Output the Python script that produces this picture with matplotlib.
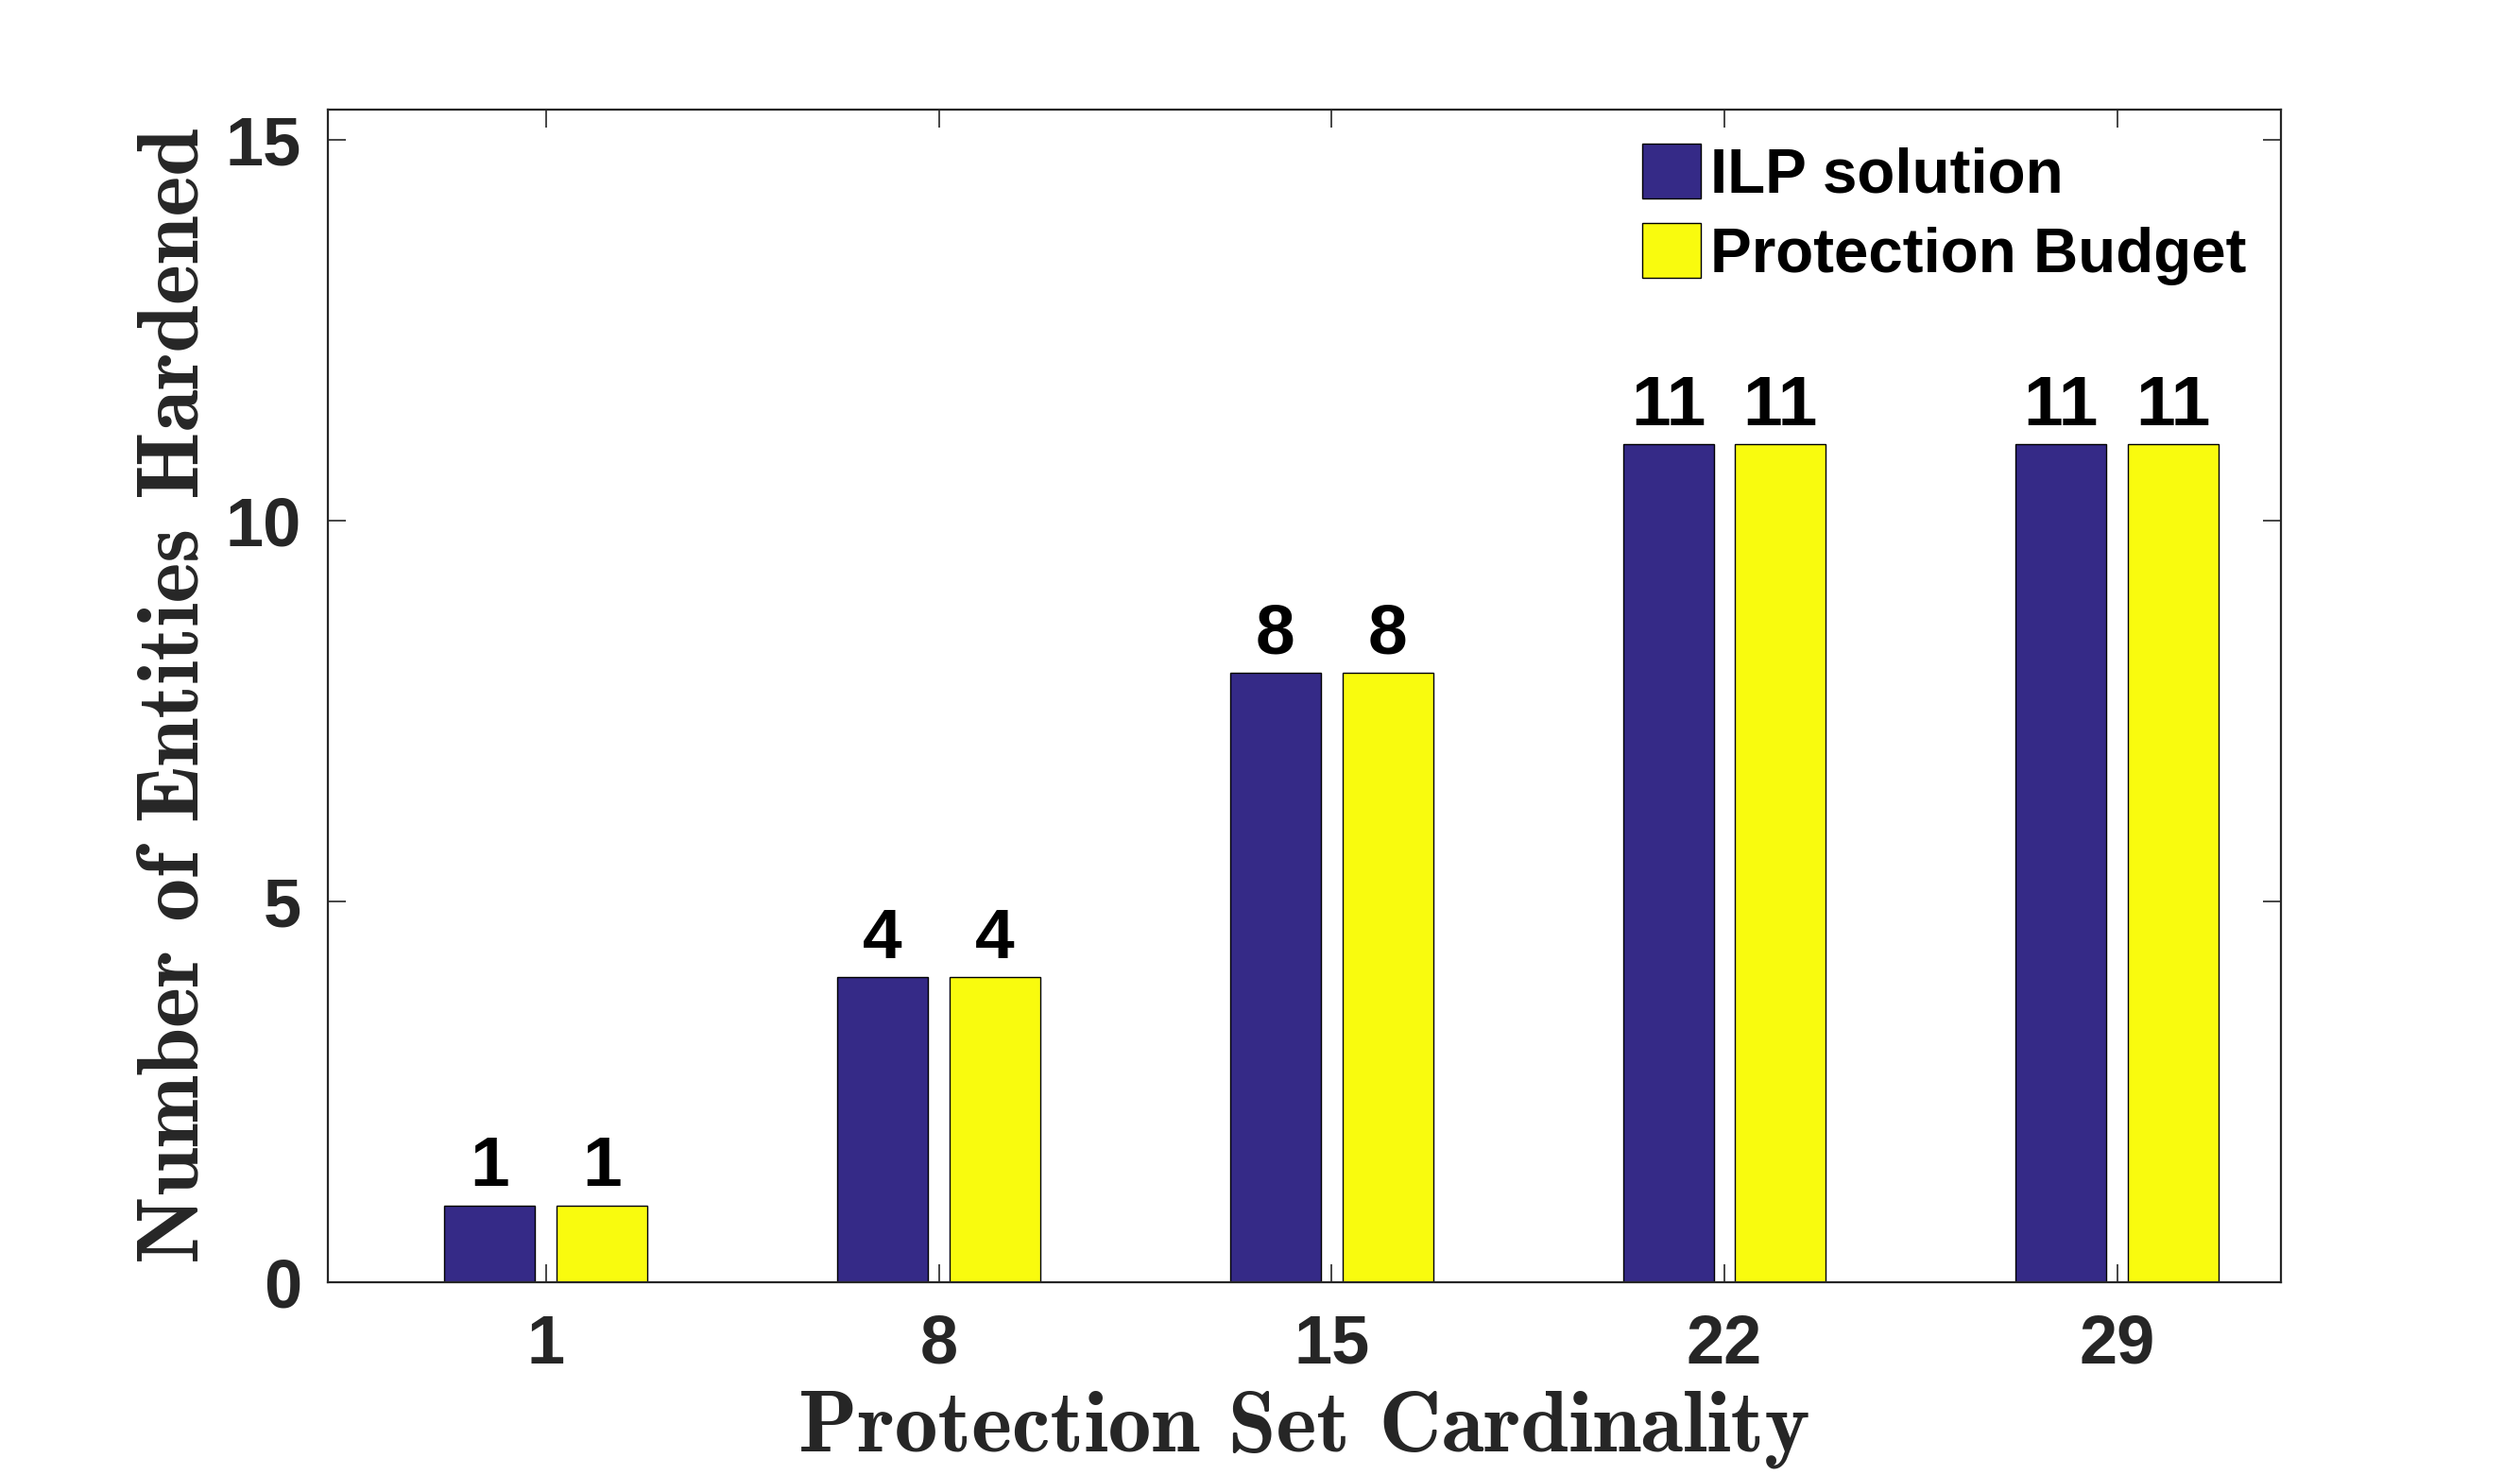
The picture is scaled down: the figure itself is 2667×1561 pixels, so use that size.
import numpy as np
import matplotlib.pyplot as plt

categories = ['1', '8', '15', '22', '29']
ilp = [1, 4, 8, 11, 11]
budget = [1, 4, 8, 11, 11]

blue = '#352a87'
yellow = '#f9fb0e'
grey = '#262626'

fig = plt.figure(figsize=(13.335, 7.805), dpi=200)
ax = fig.add_axes([0.130, 0.131, 0.775, 0.795])

x = np.arange(len(categories))
w = 0.231
off = 0.143
b1 = ax.bar(x - off, ilp, w, color=blue, edgecolor='black', linewidth=0.5, label='ILP solution')
b2 = ax.bar(x + off, budget, w, color=yellow, edgecolor='black', linewidth=0.5, label='Protection Budget')

for bars in (b1, b2):
    ax.bar_label(bars, padding=2, color='black', fontsize=27,
                 fontweight='bold', fontfamily='Liberation Sans')

ax.set_xlim(-0.556, 4.416)
ax.set_ylim(0, 15.4)
ax.set_xticks(x)
ax.set_xticklabels(categories)
ax.set_yticks([0, 5, 10, 15])

for s in ax.spines.values():
    s.set_color(grey)
    s.set_linewidth(0.8)
ax.tick_params(direction='in', length=7, width=0.6, colors=grey,
               top=True, right=True, labelsize=26)
ax.tick_params(axis='x', pad=12)
ax.tick_params(axis='y', pad=10)
for t in ax.get_xticklabels() + ax.get_yticklabels():
    t.set_fontfamily('Liberation Sans')
    t.set_fontweight('bold')

ax.set_xlabel('Protection Set Cardinality', family='cmb10', fontsize=33, color=grey, labelpad=5)
ax.set_ylabel('Number of Entities Hardened', family='cmb10', fontsize=33, color=grey, labelpad=4)

leg = ax.legend(loc='upper right', frameon=False, prop=dict(family='Liberation Sans', weight='bold', size=23.6),
                handlelength=0.95, handleheight=1.0, handletextpad=0.15, labelspacing=0.28,
                borderaxespad=0.15)

fig.savefig('out.png', dpi=200)
